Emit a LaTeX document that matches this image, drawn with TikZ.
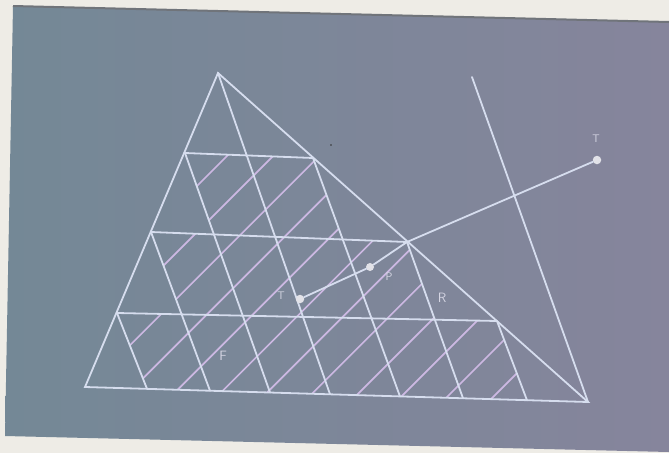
\documentclass[tikz,border=0pt]{standalone}
\usetikzlibrary{calc}
\definecolor{paper}{RGB}{238,236,230}
\definecolor{slateL}{RGB}{116,136,150}
\definecolor{slateR}{RGB}{134,133,156}
\definecolor{edgeshadow}{RGB}{112,116,122}
\definecolor{gridc}{RGB}{214,221,238}
\definecolor{hatchc}{RGB}{204,184,226}
\definecolor{dotc}{RGB}{226,226,232}
\definecolor{labc}{RGB}{214,214,228}
\tikzset{
  gridline/.style={draw=gridc, line width=1.8pt, line cap=round},
  hatchline/.style={draw=hatchc, line width=1.7pt},
  ptdot/.style={circle, fill=dotc, inner sep=0pt, minimum size=8.5pt},
  lab/.style={text=labc, font=\sffamily\fontsize{11}{11}\selectfont, inner sep=0pt},
  labbig/.style={lab, font=\sffamily\fontsize{13.5}{13.5}\selectfont},
}
\begin{document}
\begin{tikzpicture}[x=1pt,y=-1pt]
\useasboundingbox (0,0) rectangle (669,453);
% photo background
\fill[paper] (0,0) rectangle (669,453);
\shade[left color=slateL, right color=slateR] (13,6) -- (669,22) -- (669,452) -- (5,436) -- cycle;
\draw[edgeshadow, line width=2pt] (13,6) -- (669,22);

% main points
\coordinate (A) at (218,73);
\coordinate (B) at (85,387);
\coordinate (C) at (588,402);
\coordinate (H1l) at (185,153);
\coordinate (H1r) at (313,158);
\coordinate (H2l) at (151,232);
\coordinate (H2r) at (407,242);
\coordinate (H3l) at (117,313);
\coordinate (H3r) at (497,321);
% feet of the steep lines on the base
\coordinate (L1b) at ($(B)!0.3678!(C)$);
\coordinate (L2b) at ($(B)!0.2485!(C)$);
\coordinate (L3b) at ($(B)!0.1233!(C)$);
\coordinate (SAb) at ($(B)!0.4871!(C)$);
\coordinate (R1b) at ($(B)!0.6262!(C)$);
\coordinate (R2b) at ($(B)!0.7515!(C)$);
\coordinate (R3b) at ($(B)!0.8787!(C)$);
% corners of the hatched staircase
\coordinate (L1m) at (intersection of H1l--L1b and H2l--H2r);
\coordinate (R1m) at (intersection of H1r--R1b and H2l--H2r);
\coordinate (L2m) at (intersection of H2l--L2b and H3l--H3r);
\coordinate (R2m) at (intersection of H2r--R2b and H3l--H3r);
% other points
\coordinate (Q) at (472,77);
\coordinate (J) at (H2r);

% hatching
\begin{scope}
  \clip (H1l) -- (H1r) -- (R1m) -- (H2r) -- (R2m) -- (H3r) -- (R3b) -- (L3b)
        -- (H3l) -- (L2m) -- (H2l) -- (L1m) -- cycle;
  \foreach \k in {0,...,11}{
    \pgfmathsetmacro\hc{383+46.1*\k}
    \draw[hatchline] (\hc-60,60) -- (\hc-460,460);
  }
\end{scope}

% triangle and grid
\draw[gridline] (A) -- (B) -- (C) -- cycle;
\draw[gridline] (H1l) -- (H1r);
\draw[gridline] (H2l) -- (H2r);
\draw[gridline] (H3l) -- (H3r);
\draw[gridline] (A) -- (SAb);
\draw[gridline] (H1l) -- (L1b);
\draw[gridline] (H2l) -- (L2b);
\draw[gridline] (H3l) -- (L3b);
\draw[gridline] (H1r) -- (R1b);
\draw[gridline] (H2r) -- (R2b);
\draw[gridline] (H3r) -- (R3b);
\draw[gridline] (Q) -- (C);

% points and their line
\node[ptdot] (T1) at (300,299) {};
\node[ptdot, minimum size=8pt] (Pp) at (370,267) {};
\node[ptdot] (T2) at (597,160) {};
\draw[gridline] (T1) -- (Pp) -- (J) -- (T2);

% small dust dot
\fill[black!80] (331,145) circle (0.9);

% labels
\node[lab] (labT1) at (281,296) {T};
\node[lab] (labT2) at (596,139) {T};
\node[lab] (labP) at (389,277) {P};
\node[labbig] (labR) at (442,298) {R};
\node[labbig] (labF) at (223,356) {F};
\end{tikzpicture}
\end{document}
